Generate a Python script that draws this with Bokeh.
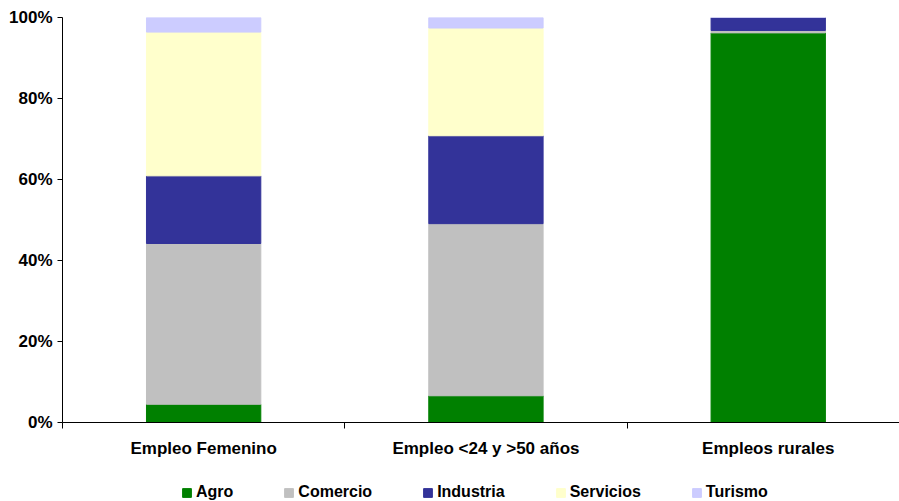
from bokeh.plotting import figure
from bokeh.layouts import column
from bokeh.models import (Range1d, FixedTicker, PrintfTickFormatter, Legend,
                          LegendItem, ColumnDataSource)
from bokeh.embed import file_html
from bokeh.resources import INLINE

categories = ["Empleo Femenino", "Empleo <24 y >50 años", "Empleos rurales"]
sectors = ["Agro", "Comercio", "Industria", "Servicios", "Turismo"]
agro = [4.5, 6.6, 96.2]
comercio = [39.7, 42.5, 0.6]
industria = [16.7, 21.7, 3.2]
servicios = [35.5, 26.6, 0.0]
turismo = [3.6, 2.6, 0.0]
colors = ["#008000", "#C0C0C0", "#333399", "#FFFFCC", "#CCCCFF"]
y_ticks = [0, 20, 40, 60, 80, 100]

xpos = [i + 0.5 for i in range(len(categories))]
source = ColumnDataSource(dict(x=xpos, Agro=agro, Comercio=comercio,
                               Industria=industria, Servicios=servicios,
                               Turismo=turismo))

FONT = "Liberation Sans"

p = figure(width=899, height=466, x_range=Range1d(0, 2.965),
           y_range=Range1d(0, 100), toolbar_location=None,
           output_backend="svg", min_border_left=62, min_border_right=0,
           min_border_top=17, min_border_bottom=44, outline_line_color=None)

renderers = p.vbar_stack(sectors, x="x", width=0.405, color=colors,
                         source=source)

# y axis
ya = p.yaxis[0]
ya.ticker = FixedTicker(ticks=y_ticks)
ya.formatter = PrintfTickFormatter(format="%d%%")
ya.major_tick_out = 5
ya.major_tick_in = 0
ya.minor_tick_out = 0
ya.minor_tick_in = 0
ya.axis_line_color = "black"
ya.major_tick_line_color = "black"
ya.major_label_standoff = 5
ya.major_label_text_font = FONT
ya.major_label_text_font_style = "bold"
ya.major_label_text_font_size = "17px"
ya.major_label_text_color = "black"

# x axis
xa = p.xaxis[0]
xa.ticker = FixedTicker(ticks=xpos, minor_ticks=[0, 1, 2])
xa.major_label_overrides = {x: c for x, c in zip(xpos, categories)}
xa.major_tick_out = 0
xa.major_tick_in = 0
xa.major_tick_line_color = None
xa.minor_tick_out = 6
xa.minor_tick_in = 0
xa.minor_tick_line_color = "black"
xa.axis_line_color = "black"
xa.major_label_standoff = 10
xa.major_label_text_font = FONT
xa.major_label_text_font_style = "bold"
xa.major_label_text_font_size = "17px"
xa.major_label_text_color = "black"

p.xgrid.visible = False
p.ygrid.ticker = FixedTicker(ticks=[100])
p.ygrid.grid_line_color = "#a0a0a0"
p.ygrid.grid_line_width = 1.3

# legend strip below the chart (its ranges keep the proxy bars out of view)
lp = figure(width=899, height=35, x_range=Range1d(-3, -2),
            y_range=Range1d(0, 1), toolbar_location=None,
            output_backend="svg", x_axis_location=None,
            y_axis_location=None, min_border=0, outline_line_color=None)
lp.grid.visible = False
proxies = lp.vbar_stack(sectors, x="x", width=0.405, color=colors,
                        source=source)

legend = Legend(items=[LegendItem(label=s, renderers=[r])
                       for s, r in zip(sectors, proxies)],
                orientation="horizontal", location=(119, 0),
                padding=0, margin=0, spacing=50, glyph_width=11,
                glyph_height=11, label_standoff=4, label_height=11,
                label_text_font=FONT, label_text_font_style="bold",
                label_text_font_size="16px", label_text_color="black",
                border_line_color=None, background_fill_alpha=0)
lp.add_layout(legend, "center")

layout = column(p, lp, spacing=0)
open("out.html", "w").write(file_html(layout, INLINE))
